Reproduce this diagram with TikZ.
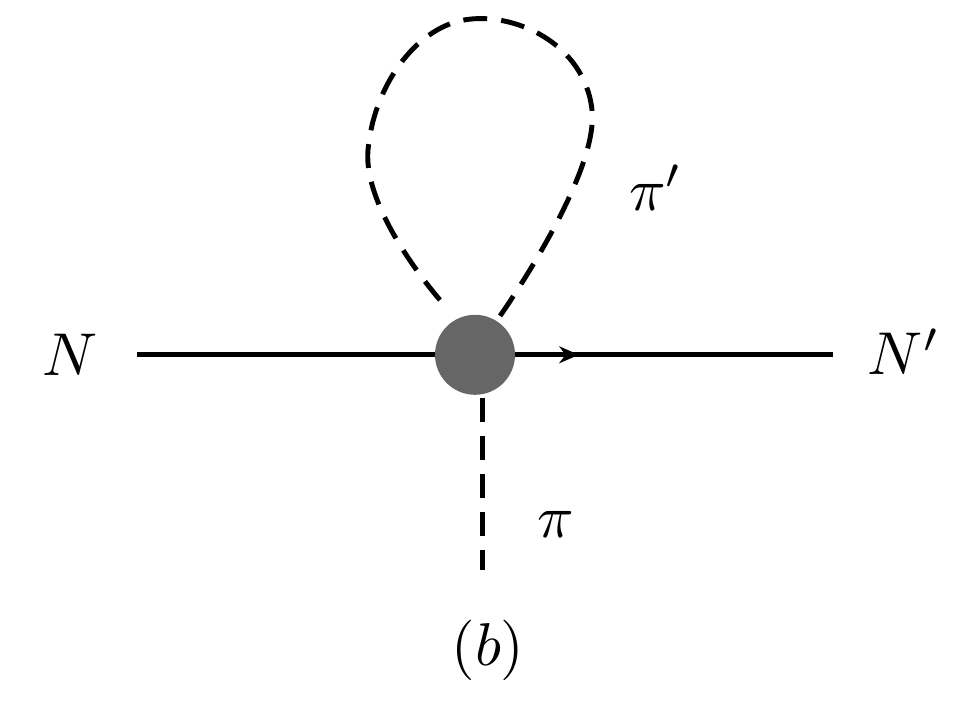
\documentclass[tikz,border=0pt]{standalone}
\usepackage{amsmath}
\usepackage{tikz}
\usetikzlibrary{decorations.markings,arrows.meta}
\tikzset{
	pion/.style={line width=3.5pt, dash pattern=on 17pt off 10pt},
	nucleon/.style={line width=3.5pt},
	lbl/.style={scale=4.3}
}
\begin{document}
\begin{tikzpicture}
	\useasboundingbox (0,0) rectangle (24,18);
	
	\node[lbl] (N) at (1.75, 9.13)     {$N$};
	\node[lbl] (Np) at (22.6, 9.2)     {$N'$};
	\node[shape=circle, fill=black!60, minimum size=2cm, inner sep=0pt] (v) at (11.875, 9.13) {};
	\node[lbl] (pip) at (16.4, 13.3)     {$\pi'$};
	\node[lbl] (pi) at (13.9, 4.9)     {$\pi$};
	\node[lbl] (b) at (12.2, 1.75)     {$(b)$};
	\coordinate (nin) at (3.43, 9.13);
	\coordinate (nout) at (20.83, 9.13);
	\coordinate (pib) at (12.07, 3.75);
	
	\path[nucleon] (nin) edge (v);
	\draw[nucleon, postaction={decorate}, decoration={markings, mark=at position 0.2 with {\arrow{Stealth[length=14pt,width=12pt]}}}] (v.east) -- (nout);
	\draw[pion] (12.07, 8.05) -- (pib);
	\draw[pion] plot[smooth, tension=0.8] coordinates {(11.0,10.5) (9.2,14.25) (11.6,17.5) (14.8,15.25) (12.43,10.0)};
	
\end{tikzpicture}
\end{document}
